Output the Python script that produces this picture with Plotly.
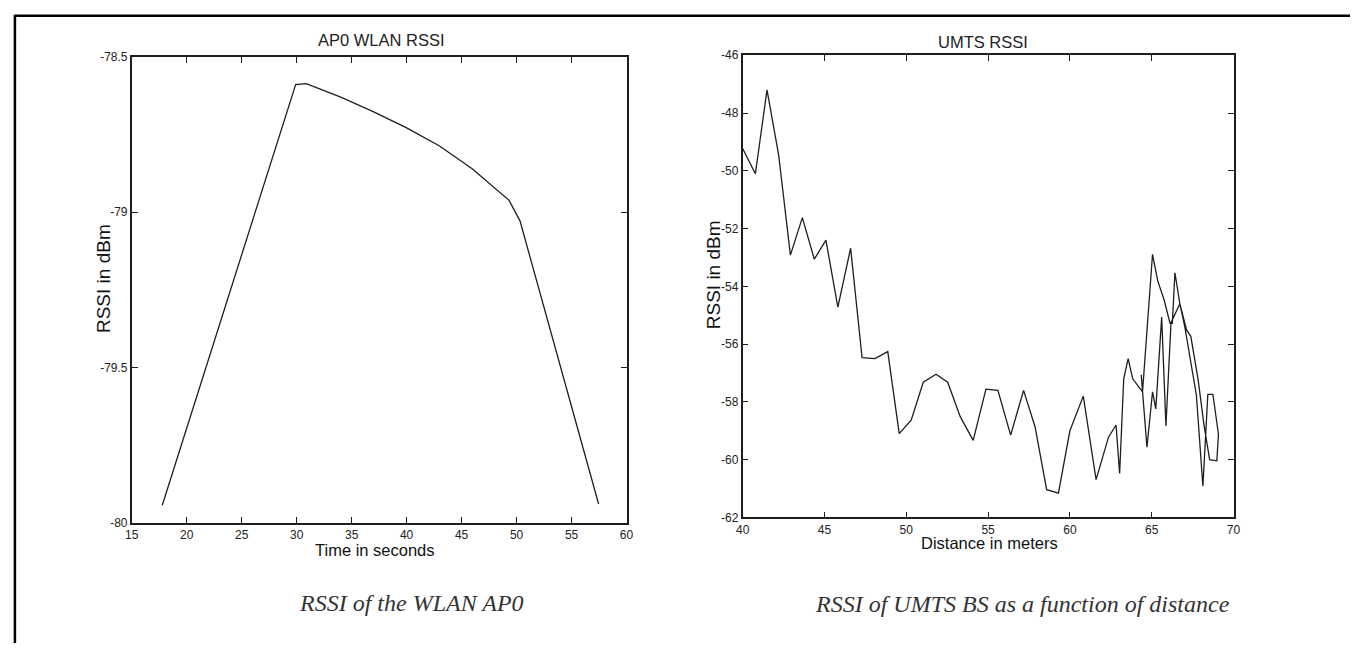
import plotly.graph_objects as go

W, H = 1357, 650

# ---------------- data ----------------
wlan_time = [17.78, 29.91, 30.87, 33.96, 36.96, 39.96, 42.96, 45.96, 49.32, 50.31, 57.46]
wlan_rssi = [-79.944, -78.589, -78.586, -78.629, -78.676, -78.728, -78.786, -78.860, -78.962, -79.028, -79.94]

umts_dist = [40.0, 40.78, 41.49, 42.2, 42.92, 43.65, 44.38, 45.09, 45.82, 46.6,
             47.3, 48.09, 48.87, 49.57, 50.3, 51.04, 51.82, 52.53, 53.3, 54.09,
             54.87, 55.6, 56.38, 57.17, 57.87, 58.58, 59.3, 60.0, 60.82, 61.6,
             62.36, 62.82, 63.04, 63.29, 63.56, 63.84, 64.44, 65.05, 65.37, 65.77,
             66.12, 66.26, 66.42, 66.72, 67.13, 67.39, 67.83, 68.19, 68.54, 68.98,
             69.08, 68.74, 68.43, 68.13, 67.73, 67.02, 66.72, 66.18, 65.87, 65.61,
             65.25, 65.05, 64.71, 64.36]
umts_rssi = [-49.23, -50.1, -47.2, -49.45, -52.92, -51.62, -53.06, -52.4, -54.72, -52.68,
             -56.47, -56.5, -56.26, -59.1, -58.63, -57.32, -57.04, -57.32, -58.51, -59.33,
             -57.56, -57.6, -59.15, -57.6, -58.86, -61.04, -61.16, -59.0, -57.8, -60.69,
             -59.22, -58.8, -60.48, -57.2, -56.5, -57.2, -57.65, -52.89, -53.81, -54.49,
             -55.28, -55.28, -53.53, -54.6, -55.51, -55.73, -57.2, -58.78, -60.0, -60.04,
             -59.12, -57.74, -57.74, -60.92, -57.76, -55.39, -54.6, -55.26, -58.83, -55.06,
             -58.24, -57.65, -59.57, -57.06]

wlan_xticks = [15, 20, 25, 30, 35, 40, 45, 50, 55, 60]
wlan_yticks = [-80, -79.5, -79, -78.5]
wlan_ytext = ["-80", "-79.5", "-79", "-78.5"]
umts_xticks = [40, 45, 50, 55, 60, 65, 70]
umts_yticks = [-62, -60, -58, -56, -54, -52, -50, -48, -46]
umts_ytext = ["-62", "-60", "-58", "-56", "-54", "-52", "-50", "-48", "-46"]

titles = ["AP0 WLAN RSSI", "UMTS RSSI"]
xtitles = ["Time in seconds", "Distance in meters"]
ytitle = "RSSI in dBm"
captions = ["RSSI of the WLAN AP0", "RSSI of UMTS BS as a function of distance"]

# ---------------- styling ----------------
SANS = "Liberation Sans, Arial, sans-serif"
SERIF = "Liberation Serif, Times New Roman, serif"
INK = "#1e1e1e"


def px(x):
    return x / W


def py(y):
    return 1 - y / H


fig = go.Figure()
fig.add_trace(go.Scatter(x=wlan_time, y=wlan_rssi, mode="lines",
                         line=dict(color=INK, width=1.3), xaxis="x", yaxis="y",
                         showlegend=False, hoverinfo="skip"))
fig.add_trace(go.Scatter(x=umts_dist, y=umts_rssi, mode="lines",
                         line=dict(color=INK, width=1.3), xaxis="x2", yaxis="y2",
                         showlegend=False, hoverinfo="skip"))

axis_common = dict(showgrid=False, zeroline=False, showline=True, linecolor=INK,
                   linewidth=1.6, mirror="ticks", ticks="inside", ticklen=6,
                   tickwidth=1.4, tickcolor=INK,
                   tickfont=dict(family=SANS, size=12, color="#222"))

fig.update_layout(
    width=W, height=H, autosize=False,
    margin=dict(l=0, r=0, t=0, b=0),
    paper_bgcolor="white", plot_bgcolor="white",
    showlegend=False,
    xaxis=dict(domain=[px(126), px(626)], range=[15, 60], tickmode="array",
               tickvals=wlan_xticks, ticktext=[str(v) for v in wlan_xticks],
               anchor="y", **axis_common),
    yaxis=dict(domain=[py(527), py(51)], range=[-80, -78.5], tickmode="array",
               tickvals=wlan_yticks, ticktext=wlan_ytext, anchor="x", **axis_common),
    xaxis2=dict(domain=[px(743.3), px(1239.3)], range=[40, 70], tickmode="array",
                tickvals=umts_xticks, ticktext=[str(v) for v in umts_xticks],
                anchor="y2", **axis_common),
    yaxis2=dict(domain=[py(521.7), py(49.3)], range=[-62, -46], tickmode="array",
                tickvals=umts_yticks, ticktext=umts_ytext, anchor="x2", **axis_common),
)

ann = []
# chart titles
ann.append(dict(text=titles[0], x=px(378), y=py(34), xref="paper", yref="paper",
                xanchor="center", yanchor="middle", showarrow=False,
                font=dict(family=SANS, size=16.5, color="#222")))
ann.append(dict(text=titles[1], x=px(986), y=py(36), xref="paper", yref="paper",
                xanchor="center", yanchor="middle", showarrow=False,
                font=dict(family=SANS, size=16.5, color="#222")))
# x-axis titles
ann.append(dict(text=xtitles[0], x=px(372), y=py(555), xref="paper", yref="paper",
                xanchor="center", yanchor="middle", showarrow=False,
                font=dict(family=SANS, size=16.5, color="#111")))
ann.append(dict(text=xtitles[1], x=px(993), y=py(548), xref="paper", yref="paper",
                xanchor="center", yanchor="middle", showarrow=False,
                font=dict(family=SANS, size=16.5, color="#111")))
# y-axis titles
ann.append(dict(text=ytitle, x=px(97), y=py(277), xref="paper", yref="paper",
                xanchor="center", yanchor="middle", showarrow=False, textangle=-90,
                font=dict(family=SANS, size=19, color="#111")))
ann.append(dict(text=ytitle, x=px(714), y=py(273.5), xref="paper", yref="paper",
                xanchor="center", yanchor="middle", showarrow=False, textangle=-90,
                font=dict(family=SANS, size=19, color="#111")))
# captions
ann.append(dict(text="<i>" + captions[0] + "</i>", x=px(409), y=py(609), xref="paper",
                yref="paper", xanchor="center", yanchor="middle", showarrow=False,
                font=dict(family=SERIF, size=24, color="#333")))
ann.append(dict(text="<i>" + captions[1] + "</i>", x=px(1026.5), y=py(610), xref="paper",
                yref="paper", xanchor="center", yanchor="middle", showarrow=False,
                font=dict(family=SERIF, size=24, color="#333")))
fig.update_layout(annotations=ann)

# page frame lines (left and top border)
fig.update_layout(shapes=[
    dict(type="line", xref="paper", yref="paper", x0=px(8), x1=px(8), y0=py(8), y1=0,
         line=dict(color="black", width=2.5)),
    dict(type="line", xref="paper", yref="paper", x0=px(8), x1=1, y0=py(9), y1=py(9),
         line=dict(color="black", width=2.5)),
])

fig.write_html("out.html", config={"displayModeBar": False},
               post_script="document.body.style.margin='0';"
                           "document.body.style.overflow='hidden';")
